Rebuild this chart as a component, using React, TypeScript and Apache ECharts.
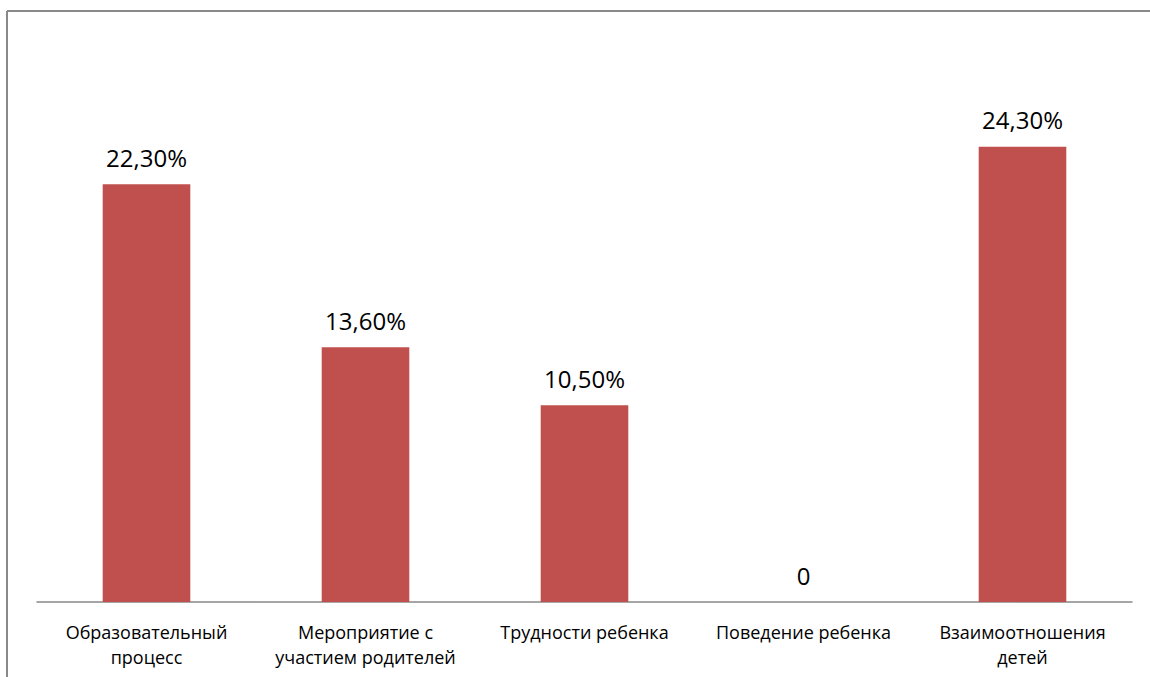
import React, { useEffect, useRef } from "react";
import * as echarts from "echarts";

const categories = [
  "Образовательный\nпроцесс",
  "Мероприятие с\nучастием родителей",
  "Трудности ребенка",
  "Поведение ребенка",
  "Взаимоотношения\nдетей",
];
const values = [22.3, 13.6, 10.5, 0, 24.3];
const yMax = 30;

export default function App() {
  const ref = useRef<HTMLDivElement>(null);
  useEffect(() => {
    if (!ref.current) return;
    const chart = echarts.init(ref.current, null, { renderer: "svg" });
    chart.setOption({
      animation: false,
      backgroundColor: "#ffffff",
      textStyle: { fontFamily: "Open Sans" },
      graphic: [
        {
          type: "line",
          shape: { x1: 7, y1: 11, x2: 1150, y2: 11 },
          style: { stroke: "#898989", lineWidth: 2 },
          silent: true,
        },
        {
          type: "line",
          shape: { x1: 7, y1: 11, x2: 7, y2: 677 },
          style: { stroke: "#898989", lineWidth: 2 },
          silent: true,
        },
      ],
      grid: { left: 37, right: 18, top: 40, bottom: 75 },
      xAxis: {
        type: "category",
        data: categories,
        axisLine: { show: true, lineStyle: { color: "#888888", width: 1.5 } },
        axisTick: { show: false },
        axisLabel: {
          color: "#000000",
          fontSize: 18,
          fontFamily: "Open Sans",
          lineHeight: 25,
          margin: 17,
          interval: 0,
        },
      },
      yAxis: {
        type: "value",
        min: 0,
        max: yMax,
        show: false,
        splitLine: { show: false },
      },
      series: [
        {
          type: "bar",
          data: values,
          barWidth: "40%",
          itemStyle: { color: "#C0504D" },
          label: {
            show: true,
            position: "top",
            distance: 15,
            color: "#000000",
            fontSize: 24,
            fontFamily: "Open Sans",
            formatter: (p: any) =>
              p.value === 0 ? "0" : p.value.toFixed(2).replace(".", ",") + "%",
          },
        },
      ],
    });
    return () => chart.dispose();
  }, []);
  return (
    <div
      ref={ref}
      style={{ position: "fixed", left: 0, top: 0, width: 1150, height: 677 }}
    />
  );
}
